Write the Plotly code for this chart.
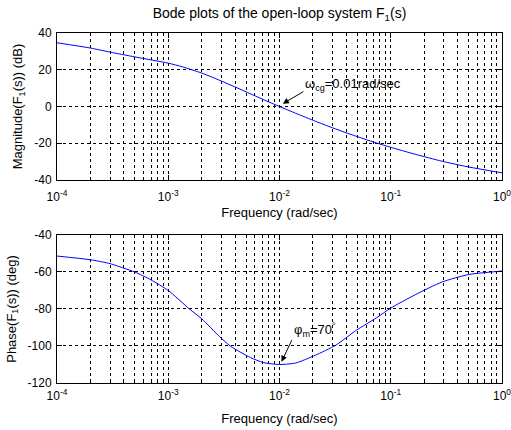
import plotly.graph_objects as go
from plotly.subplots import make_subplots

# ---- data ----
mag_freq = [1e-4, 2e-4, 3e-4, 5e-4, 1e-3, 1.34e-3, 2e-3, 3.1e-3, 5e-3, 7.2e-3,
            1e-2, 1.4e-2, 2.1e-2, 3e-2, 4.1e-2, 7.4e-2, 1e-1, 0.166, 0.29, 0.5, 1.0]
mag_db = [34.7, 31.8, 29.6, 27.0, 23.6, 21.6, 18.2, 13.5, 8.0, 3.7,
          0.0, -3.7, -8.0, -11.6, -14.6, -19.8, -22.2, -26.0, -29.8, -32.9, -36.1]

ph_freq = [1e-4, 2e-4, 3e-4, 4e-4, 5e-4, 7e-4, 1e-3, 1.55e-3, 2e-3, 2.9e-3, 3.6e-3,
           4.5e-3, 5.5e-3, 7.2e-3, 1e-2, 1.4e-2, 2.1e-2, 3.2e-2, 4.9e-2, 7.4e-2,
           1e-1, 0.166, 0.29, 0.5, 1.0]
ph_deg = [-51.4, -53.4, -55.5, -58.0, -60.0, -64.3, -70.0, -80.0, -85.3, -95.0, -100.0,
          -103.5, -106.3, -109.0, -110.0, -109.2, -105.0, -99.6, -91.5, -84.9,
          -79.5, -72.3, -65.4, -61.4, -59.5]

x_major = [1e-4, 1e-3, 1e-2, 1e-1, 1.0]
x_major_text = ["10<sup>-4</sup>", "10<sup>-3</sup>", "10<sup>-2</sup>", "10<sup>-1</sup>", "10<sup>0</sup>"]
x_minor = [m * d for d in [1e-4, 1e-3, 1e-2, 1e-1] for m in range(2, 10)]

mag_ticks = [40, 20, 0, -20, -40]
mag_ticktext = ["40", "20", "0", "-20", "-40"]
ph_ticks = [-40, -60, -80, -100, -120]
ph_ticktext = ["-40", "-60", "-80", "-100", "-120"]

FONT = "Liberation Sans, Arial, sans-serif"
TICK = dict(family=FONT, size=12, color="black")
LAB = dict(family=FONT, size=13, color="black")

fig = make_subplots(rows=2, cols=1, vertical_spacing=0.1)
fig.add_trace(go.Scatter(x=mag_freq, y=mag_db, mode="lines",
                         line=dict(color="#0000FF", width=1, shape="spline", smoothing=0.6),
                         showlegend=False), row=1, col=1)
fig.add_trace(go.Scatter(x=ph_freq, y=ph_deg, mode="lines",
                         line=dict(color="#0000FF", width=1, shape="spline", smoothing=0.6),
                         showlegend=False), row=2, col=1)

xcommon = dict(type="log", range=[-4, 0], tickmode="array", tickvals=x_major, ticktext=x_major_text,
               showline=True, linecolor="black", linewidth=1, mirror="ticks",
               ticks="inside", ticklen=5, tickcolor="black",
               showgrid=True, gridcolor="black", gridwidth=1, griddash="3px,3px",
               minor=dict(tickvals=x_minor, ticks="inside", ticklen=3, tickcolor="black",
                          showgrid=True, gridcolor="black", gridwidth=1, griddash="3px,3px"),
               zeroline=False, tickfont=TICK, ticklabeloverflow="allow", automargin=False)
ycommon = dict(showline=True, linecolor="black", linewidth=1, mirror="ticks",
               ticks="inside", ticklen=5, tickcolor="black",
               showgrid=True, gridcolor="black", gridwidth=1, griddash="3px,3px",
               zeroline=False, ticklabelstandoff=2, tickfont=TICK, ticklabeloverflow="allow",
               automargin=False)

fig.update_xaxes(**xcommon)
fig.update_yaxes(**ycommon)
fig.update_xaxes(ticklabelstandoff=6,
                 title=dict(text="Frequency (rad/sec)", font=LAB, standoff=4), row=1, col=1)
fig.update_xaxes(ticklabelstandoff=2,
                 title=dict(text="Frequency (rad/sec)", font=LAB, standoff=11), row=2, col=1)
fig.update_yaxes(range=[-40, 40], tickmode="array", tickvals=mag_ticks, ticktext=mag_ticktext,
                 title=dict(text="Magnitude(F<sub>1</sub>(s)) (dB)", font=LAB, standoff=8),
                 row=1, col=1)
fig.update_yaxes(range=[-120, -40], tickmode="array", tickvals=ph_ticks, ticktext=ph_ticktext,
                 title=dict(text="Phase(F<sub>1</sub>(s)) (deg)", font=LAB, standoff=8),
                 row=2, col=1)

fig.update_layout(
    width=511, height=430,
    margin=dict(l=57, r=9, t=33, b=47),
    paper_bgcolor="white", plot_bgcolor="white",
    font=dict(family=FONT, size=12, color="black"),
    xaxis=dict(domain=[0, 1]), xaxis2=dict(domain=[0, 1]),
    yaxis=dict(domain=[0.58, 1.0]), yaxis2=dict(domain=[0.0, 0.423]),
    title=dict(text="Bode plots of the open-loop system F<sub>1</sub>(s)", x=0.5, xref="paper",
               y=1 - 13 / 430, yref="container", yanchor="middle",
               font=dict(family=FONT, size=14, color="black")),
    annotations=[
        dict(x=-1.97, y=1.5, xref="x", yref="y", text="", showarrow=True, ax=22, ay=-13,
             arrowhead=2, arrowsize=1.2, arrowwidth=1, arrowcolor="black"),
        dict(x=-1.79, y=12, xref="x", yref="y", text="ω<sub>cg</sub>=0.01rad/sec", showarrow=False,
             xanchor="left", yanchor="middle", font=LAB),
        dict(x=-1.982, y=-108.5, xref="x2", yref="y2", text="", showarrow=True, ax=11, ay=-23,
             arrowhead=2, arrowsize=1.2, arrowwidth=1, arrowcolor="black"),
        dict(x=-1.892, y=-91.4, xref="x2", yref="y2", text="φ<sub>m</sub>=70<sup>°</sup>", showarrow=False,
             xanchor="left", yanchor="middle", font=LAB),
    ],
)

fig.write_html("out.html")
